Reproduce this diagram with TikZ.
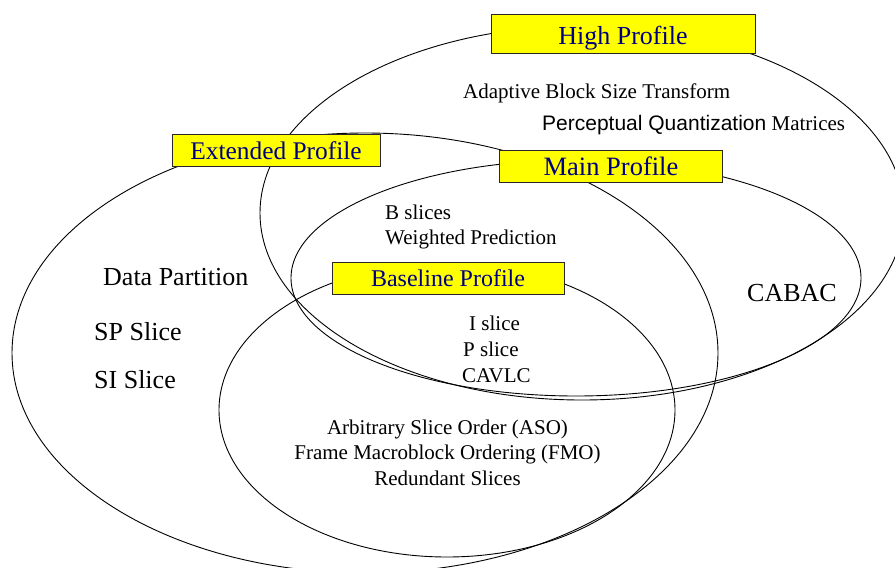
\documentclass[tikz,border=0pt]{standalone}
\usepackage{fontspec}
\setmainfont{Liberation Serif}
\newfontfamily\arialfont{Liberation Sans}
\usetikzlibrary{shapes.geometric}
\definecolor{labelblue}{RGB}{0,0,128}
\definecolor{boxyellow}{RGB}{255,255,0}
\definecolor{boxedge}{RGB}{40,40,40}

\begin{document}
\begin{tikzpicture}[x=1pt,y=-1pt,
  profile/.style={ellipse, draw=black, line width=0.9pt, inner sep=0pt},
  tag/.style={rectangle, draw=boxedge, fill=boxyellow, line width=0.9pt,
              inner sep=0pt, text=labelblue, text depth=0pt},
  feat/.style={font=\fontsize{21}{25}\selectfont, inner sep=0pt},
  bigfeat/.style={font=\fontsize{26}{30}\selectfont, inner sep=0pt}]
\useasboundingbox (0,0) rectangle (895,568);

% profile sets
\node[profile, minimum width=644pt, minimum height=374pt] (highset) at (582,213) {};
\node[profile, minimum width=706pt, minimum height=440pt] (extset)  at (365,353) {};
\node[profile, minimum width=570pt, minimum height=236pt] (mainset) at (576,278) {};
\node[profile, minimum width=456pt, minimum height=294pt] (baseset) at (447,410) {};

% profile name tags
\node[tag, minimum width=264pt, minimum height=39.5pt, text height=21pt,
      font=\fontsize{26}{30}\selectfont] (hightag) at (623,33.7) {High Profile};
\node[tag, minimum width=208pt, minimum height=32pt, text height=18.6pt,
      font=\fontsize{25.4}{30}\selectfont] (exttag) at (276,150) {Extended Profile};
\node[tag, minimum width=223pt, minimum height=32pt, text height=19.6pt,
      font=\fontsize{26.5}{30}\selectfont] (maintag) at (611,166) {Main Profile};
\node[tag, minimum width=232pt, minimum height=32pt, text height=17.8pt,
      font=\fontsize{24}{28}\selectfont] (basetag) at (448,278) {Baseline Profile};

% High profile tools
\node[feat, anchor=base west] (abst) at (463,98) {Adaptive Block Size Transform};
\node[feat, anchor=base west] (pqm) at (542,130) {{\arialfont Perceptual Quantization} Matrices};

% Main profile tools
\node[feat, anchor=base west] (bsl) at (385,219) {B slices};
\node[feat, anchor=base west] (wp) at (385,244) {Weighted Prediction};
\node[bigfeat, anchor=base west] (cabac) at (747,301.5) {CABAC};

% Extended profile tools
\node[bigfeat, anchor=base west] (dp) at (103,285) {Data Partition};
\node[bigfeat, anchor=base west] (sp) at (94,340) {SP Slice};
\node[bigfeat, anchor=base west] (si) at (94,388) {SI Slice};

% common core
\node[feat, anchor=base west] (isl) at (469,330) {I slice};
\node[feat, anchor=base west] (psl) at (463,356.7) {P slice};
\node[feat, anchor=base west] (cavlc) at (462,382.7) {CAVLC};

% Baseline profile tools
\node[feat, anchor=base] (aso) at (447.5,434) {Arbitrary Slice Order (ASO)};
\node[feat, anchor=base] (fmo) at (447.5,459.3) {Frame Macroblock Ordering (FMO)};
\node[feat, anchor=base] (rs) at (447.5,485) {Redundant Slices};
\end{tikzpicture}
\end{document}
